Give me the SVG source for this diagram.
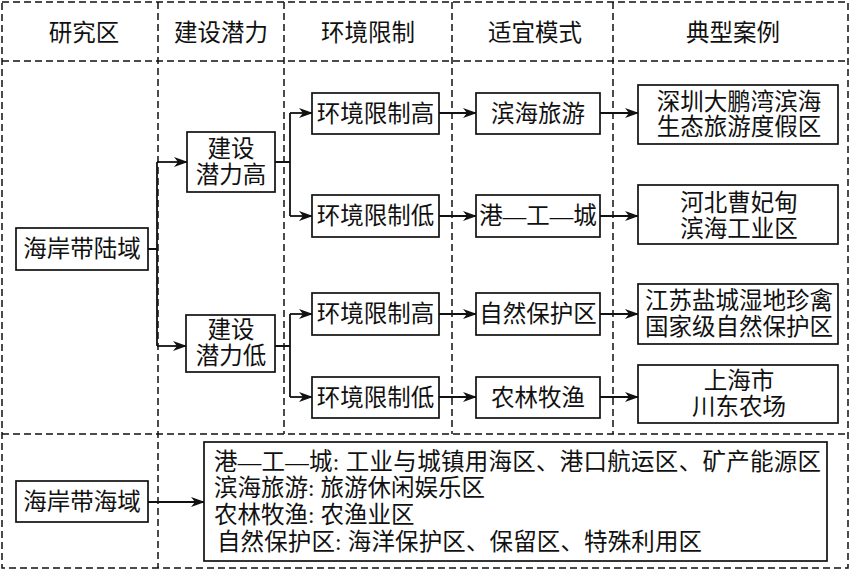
<svg xmlns="http://www.w3.org/2000/svg" width="850" height="570" viewBox="0 0 850 570">
<defs>
<style>
text{font-family:"Liberation Serif","Noto Sans CJK SC",serif;font-size:23.5px;fill:#111;dominant-baseline:central}
.c{text-anchor:middle}
.box{fill:#fff;stroke:#111;stroke-width:1.7}
.dash{fill:none;stroke:#111;stroke-width:1.5;stroke-dasharray:7 4}
.ln{fill:none;stroke:#111;stroke-width:1.8}
.ar{marker-end:url(#ah)}
</style>
<marker id="ah" viewBox="0 0 14 10" refX="13" refY="5" markerWidth="14" markerHeight="10" markerUnits="userSpaceOnUse" orient="auto">
<path d="M0,0 L14,5 L0,10 L4,5 z" fill="#111"/>
</marker>
</defs>
<rect width="850" height="570" fill="#fff"/>
<g id="grid">
<rect class="dash" x="2" y="2" width="846" height="566"/>
<line class="dash" x1="2" y1="61" x2="848" y2="61"/>
<line class="dash" x1="2" y1="434" x2="848" y2="434"/>
<line class="dash" x1="158" y1="2" x2="158" y2="568"/>
<line class="dash" x1="284" y1="2" x2="284" y2="434"/>
<line class="dash" x1="452" y1="2" x2="452" y2="434"/>
<line class="dash" x1="613" y1="2" x2="613" y2="434"/>
</g>
<g id="headers">
<text class="c" x="84" y="33">研究区</text>
<text class="c" x="221" y="33">建设潜力</text>
<text class="c" x="368" y="33">环境限制</text>
<text class="c" x="535" y="33">适宜模式</text>
<text class="c" x="733" y="33">典型案例</text>
</g>
<g id="connectors">
<path class="ln" d="M148,249 H157 M157,162 V346"/>
<path class="ln ar" d="M157,162 H187"/>
<path class="ln ar" d="M157,346 H186"/>
<path class="ln" d="M275,162 H290 M290,113 V216 M275,346 H290 M290,314 V397"/>
<path class="ln ar" d="M290,113 H312"/>
<path class="ln ar" d="M290,216 H312"/>
<path class="ln ar" d="M290,314 H312"/>
<path class="ln ar" d="M290,397 H312"/>
<path class="ln ar" d="M439,113 H476"/>
<path class="ln ar" d="M439,216 H476"/>
<path class="ln ar" d="M439,314 H476"/>
<path class="ln ar" d="M439,397 H476"/>
<path class="ln ar" d="M600,113 H638"/>
<path class="ln ar" d="M600,216 H638"/>
<path class="ln ar" d="M600,314 H638"/>
<path class="ln ar" d="M600,397 H638"/>
<path class="ln ar" d="M148,502 H204"/>
</g>
<g id="land"><rect class="box" x="16" y="228" width="132" height="42"/><text class="c" x="82" y="249">海岸带陆域</text></g>
<g id="high_potential"><rect class="box" x="187" y="132" width="88" height="60"/><text class="c" x="231" y="149">建设</text><text class="c" x="231" y="175">潜力高</text></g>
<g id="low_potential"><rect class="box" x="186" y="315" width="89" height="57"/><text class="c" x="231" y="330">建设</text><text class="c" x="231" y="356">潜力低</text></g>
<g id="env1"><rect class="box" x="312" y="93" width="127" height="41"/><text class="c" x="375.5" y="113.5">环境限制高</text></g>
<g id="env2"><rect class="box" x="312" y="195" width="127" height="42"/><text class="c" x="375.5" y="216">环境限制低</text></g>
<g id="env3"><rect class="box" x="312" y="293" width="127" height="42"/><text class="c" x="375.5" y="314">环境限制高</text></g>
<g id="env4"><rect class="box" x="312" y="377" width="127" height="41"/><text class="c" x="375.5" y="397.5">环境限制低</text></g>
<g id="mode1"><rect class="box" x="476" y="93" width="124" height="41"/><text class="c" x="538" y="113.5">滨海旅游</text></g>
<g id="mode2"><rect class="box" x="476" y="195" width="124" height="42"/><text class="c" x="538" y="216">港—工—城</text></g>
<g id="mode3"><rect class="box" x="476" y="293" width="124" height="42"/><text class="c" x="538" y="314">自然保护区</text></g>
<g id="mode4"><rect class="box" x="476" y="377" width="124" height="41"/><text class="c" x="538" y="397.5">农林牧渔</text></g>
<g id="case1"><rect class="box" x="638" y="85" width="200" height="59"/><text class="c" x="739" y="102">深圳大鹏湾滨海</text><text class="c" x="739" y="127">生态旅游度假区</text></g>
<g id="case2"><rect class="box" x="638" y="185" width="200" height="59"/><text class="c" x="739" y="203">河北曹妃甸</text><text class="c" x="739" y="229">滨海工业区</text></g>
<g id="case3"><rect class="box" x="638" y="284" width="200" height="60"/><text class="c" x="739" y="301">江苏盐城湿地珍禽</text><text class="c" x="739" y="327">国家级自然保护区</text></g>
<g id="case4"><rect class="box" x="638" y="365" width="200" height="58"/><text class="c" x="739" y="381">上海市</text><text class="c" x="739" y="407">川东农场</text></g>
<g id="sea"><rect class="box" x="16" y="481" width="132" height="41"/><text class="c" x="82" y="501.5">海岸带海域</text></g>
<g id="sea_modes"><rect class="box" x="204" y="442" width="623" height="119"/>
<text x="214" y="462" textLength="607" lengthAdjust="spacing">港—工—城: 工业与城镇用海区、港口航运区、矿产能源区</text>
<text x="214" y="488">滨海旅游: 旅游休闲娱乐区</text>
<text x="214" y="515">农林牧渔: 农渔业区</text>
<text x="217" y="542" textLength="485" lengthAdjust="spacing">自然保护区: 海洋保护区、保留区、特殊利用区</text>
</g>
</svg>
